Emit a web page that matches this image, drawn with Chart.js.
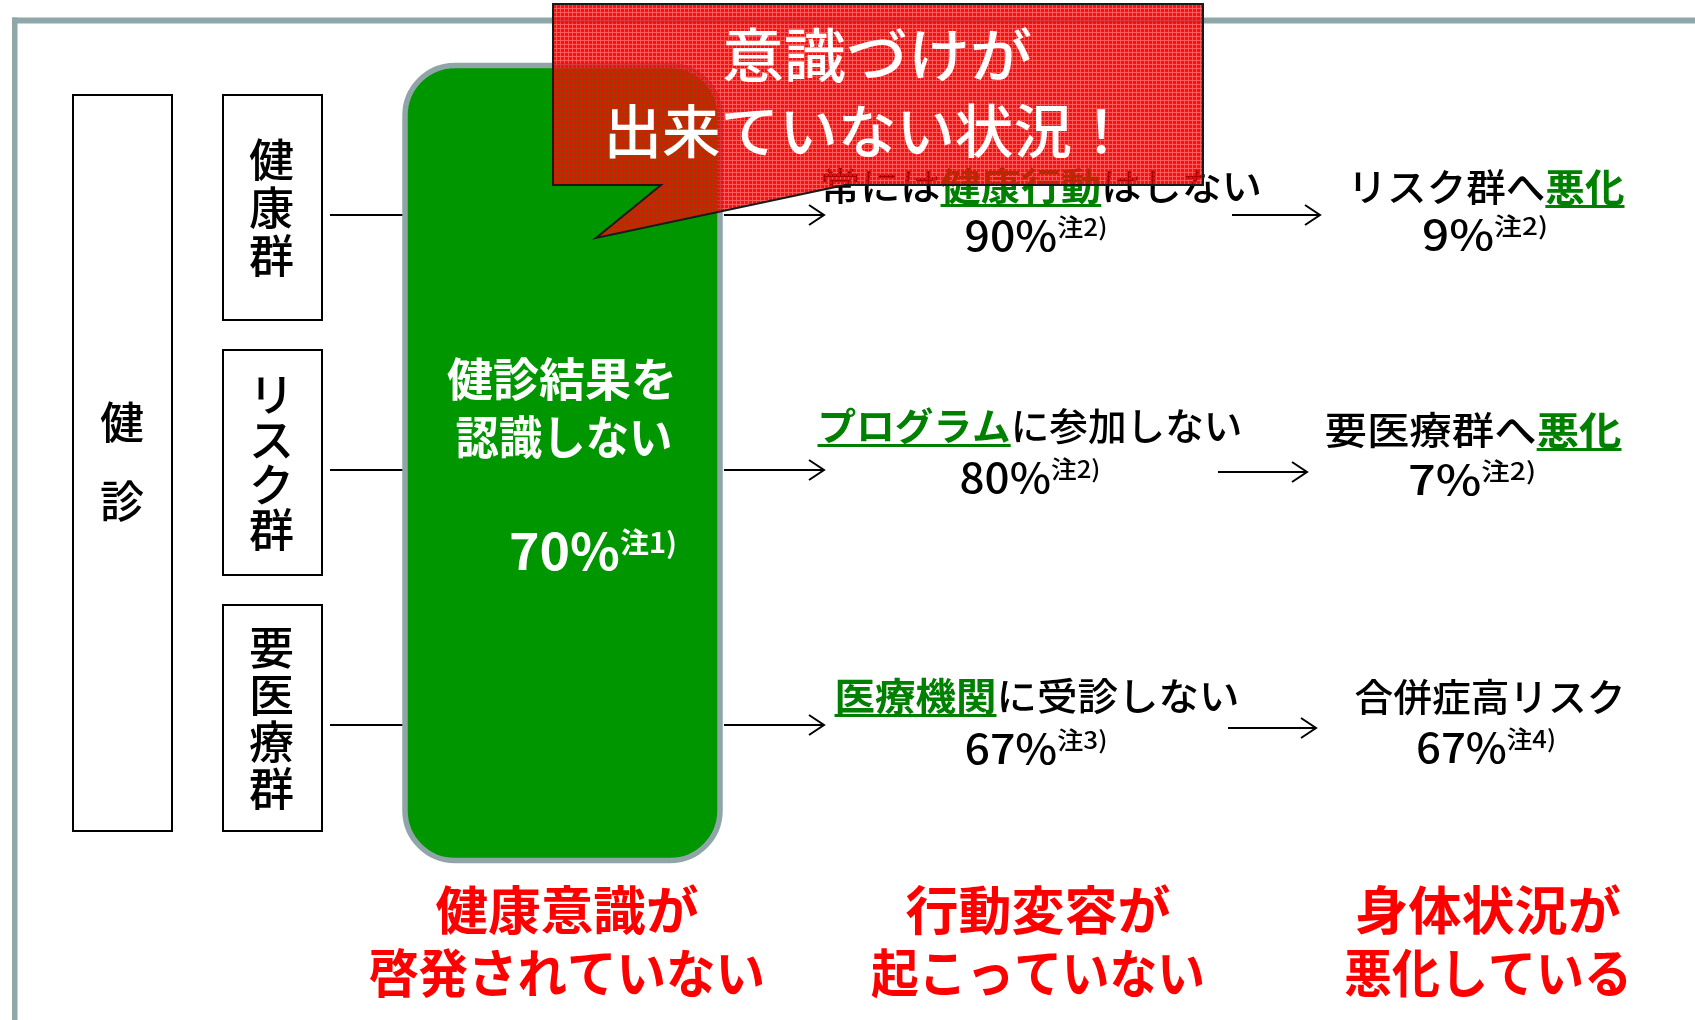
<!DOCTYPE html>
<html lang="ja">
<head>
<meta charset="utf-8">
<title>健診後の状況</title>
<script src="https://cdn.jsdelivr.net/npm/chart.js@4.4.1/dist/chart.umd.min.js"></script>
<style>
html,body{margin:0;padding:0;background:#fff;overflow:hidden;}
canvas{display:block;}
</style>
</head>
<body>
<canvas id="c" width="1695" height="1020"></canvas>
<script>
// ---------- data ----------
const screeningLabel = ['健', '診'];
const groups = ['健康群', 'リスク群', '要医療群'];
const unawareLines = ['健診結果を', '認識しない'];
const unawarePct = 70;
const unawareNote = '注1)';
const behaviorPre = ['常には', '', ''];
const behaviorKey = ['健康行動', 'プログラム', '医療機関'];
const behaviorPost = ['はしない', 'に参加しない', 'に受診しない'];
const behaviorPct = [90, 80, 67];
const behaviorNote = ['注2)', '注2)', '注3)'];
const outcomePre = ['リスク群へ', '要医療群へ', '合併症高リスク'];
const outcomeKey = ['悪化', '悪化', ''];
const outcomePct = [9, 7, 67];
const outcomeNote = ['注2)', '注2)', '注4)'];
const stageLines = [['健康意識が', '啓発されていない'], ['行動変容が', '起こっていない'], ['身体状況が', '悪化している']];
const calloutLines = ['意識づけが', '出来ていない状況！'];

// ---------- layout (positions in canvas units, mapped through the chart scales) ----------
const W = 1695, H = 1020;
const LAYOUT = {
  rowY: [215, 470, 725],
  screenBox: [73, 95, 172, 831],
  screenChars: { x: 122, y: [422, 501], size: 44 },
  groupBox: { x0: 223, x1: 322, y: [[95, 320], [350, 575], [605, 831]], step: [48, 45, 47] },
  leftLink: [330, 404],
  greenBox: { x: 405, y: 65.5, w: 315, h: 795, r: 50 },
  unaware: { cx: [562, 564], cy: [379, 437], w: [230, 217], pct: { cx: 593, cy: 551, w: 168 } },
  midArrow: [724, 824],
  behavior: { cx: [1041, 1030, 1037], cy: [186, 426, 696], w: [442, 425, 405] },
  behaviorPct: { cx: [1036, 1030, 1036], cy: [235, 477, 748], w: [143, 141, 143] },
  rightArrow: { x0: [1232, 1218, 1228], x1: [1320, 1307, 1316], y: [215, 472, 728] },
  outcome: { cx: [1486, 1473, 1490], cy: [187, 430, 697], w: [277, 297, 271] },
  outcomePct: { cx: [1485, 1472, 1486], cy: [234, 479, 747], w: [126, 128, 140] },
  stage: { cx: [567, 1038, 1488], cy: [910, 973], w: [[263, 396], [265, 334], [266, 288]] },
  callout: { x0: 553, y0: 4, x1: 1203, y1: 185, tail: [[845, 185], [596, 238], [661, 185]] },
  calloutText: { cx: [877, 867], cy: [55, 131], w: [310, 527] }
};

const FAM = '"Noto Sans CJK JP", "Noto Sans CJK SC", sans-serif';
const GREEN_TXT = '#008000';

function redPattern() {
  const p = document.createElement('canvas');
  p.width = 4; p.height = 4;
  const g = p.getContext('2d');
  for (let i = 0; i < 4; i++) for (let j = 0; j < 4; j++) {
    const a = (i === 0 || j === 0) ? 0.66 : 0.97;
    g.fillStyle = 'rgba(255,6,6,' + a + ')';
    g.fillRect(i, j, 1, 1);
  }
  return p;
}

const diagramPlugin = {
  id: 'diagram',
  afterDraw(chart) {
    const ctx = chart.ctx;
    const xs = chart.scales.x, ys = chart.scales.y;
    const X = v => xs.getPixelForValue(v);
    const Y = v => ys.getPixelForValue(v);
    const L = LAYOUT;

    function rich(segs, cx, cy, w) {
      let total = 0;
      segs.forEach(s => { ctx.font = s.font; s.w = ctx.measureText(s.t).width; total += s.w; });
      const tw = w ? (X(w) - X(0)) : total;
      const sx = tw / total;
      ctx.save();
      ctx.translate(X(cx) - tw / 2, Y(cy));
      ctx.scale(sx, 1);
      ctx.textAlign = 'left';
      ctx.textBaseline = 'middle';
      let x = 0;
      segs.forEach(s => {
        ctx.font = s.font;
        ctx.fillStyle = s.color;
        ctx.fillText(s.t, x, s.dy || 0);
        if (s.ul) ctx.fillRect(x, s.ul, s.w, 3);
        x += s.w;
      });
      ctx.restore();
    }
    function arrow(x0, x1, y) {
      ctx.strokeStyle = '#000'; ctx.lineWidth = 2;
      ctx.beginPath();
      ctx.moveTo(X(x0), Y(y)); ctx.lineTo(X(x1), Y(y));
      ctx.moveTo(X(x1) - 15, Y(y) - 10); ctx.lineTo(X(x1), Y(y)); ctx.lineTo(X(x1) - 15, Y(y) + 10);
      ctx.stroke();
    }

    ctx.save();
    // outer frame
    ctx.fillStyle = '#8fa7a9';
    ctx.fillRect(X(12), Y(17.5), X(W) - X(12), 6);
    ctx.fillRect(X(12), Y(17.5), 5.5, Y(H) - Y(17.5));

    // screening box
    ctx.strokeStyle = '#000'; ctx.lineWidth = 2;
    const sb = L.screenBox;
    ctx.strokeRect(X(sb[0]), Y(sb[1]), X(sb[2]) - X(sb[0]), Y(sb[3]) - Y(sb[1]));
    ctx.fillStyle = '#000';
    ctx.textAlign = 'center'; ctx.textBaseline = 'middle';
    ctx.font = '500 ' + L.screenChars.size + 'px ' + FAM;
    screeningLabel.forEach((c, i) => ctx.fillText(c, X(L.screenChars.x), Y(L.screenChars.y[i])));

    // group boxes
    groups.forEach((g, k) => {
      const gb = L.groupBox;
      const [y0, y1] = gb.y[k];
      ctx.strokeStyle = '#000'; ctx.lineWidth = 2;
      ctx.strokeRect(X(gb.x0), Y(y0), X(gb.x1) - X(gb.x0), Y(y1) - Y(y0));
      const chars = Array.from(g);
      const cyc = (y0 + y1) / 2;
      const step = gb.step[k];
      ctx.fillStyle = '#000';
      ctx.font = '500 45px ' + FAM;
      ctx.textAlign = 'center'; ctx.textBaseline = 'middle';
      chars.forEach((c, i) => {
        const yy = cyc + (i - (chars.length - 1) / 2) * step;
        ctx.fillText(c, X((gb.x0 + gb.x1) / 2 - 1), Y(yy));
      });
      // link line
      ctx.beginPath();
      ctx.moveTo(X(L.leftLink[0]), Y(L.rowY[k]));
      ctx.lineTo(X(L.leftLink[1]), Y(L.rowY[k]));
      ctx.stroke();
      arrow(L.midArrow[0], L.midArrow[1], L.rowY[k]);
    });

    // green box
    const gbx = L.greenBox;
    ctx.beginPath();
    ctx.roundRect(X(gbx.x), Y(gbx.y), X(gbx.x + gbx.w) - X(gbx.x), Y(gbx.y + gbx.h) - Y(gbx.y), gbx.r);
    ctx.fillStyle = '#009600';
    ctx.fill();
    ctx.lineWidth = 5.5; ctx.strokeStyle = '#8fa5a8';
    ctx.stroke();

    unawareLines.forEach((t, i) => {
      rich([{ t, font: '700 46px ' + FAM, color: '#fff' }], L.unaware.cx[i], L.unaware.cy[i], L.unaware.w[i]);
    });
    rich([
      { t: unawarePct + '%', font: '700 50px ' + FAM, color: '#fff' },
      { t: unawareNote, font: '700 28px ' + FAM, color: '#fff', dy: -9 }
    ], L.unaware.pct.cx, L.unaware.pct.cy, L.unaware.pct.w);

    // behavior column
    behaviorKey.forEach((key, i) => {
      const segs = [];
      if (behaviorPre[i]) segs.push({ t: behaviorPre[i], font: '500 38px ' + FAM, color: '#000' });
      segs.push({ t: key, font: '700 38px ' + FAM, color: GREEN_TXT, ul: 18 });
      segs.push({ t: behaviorPost[i], font: '500 38px ' + FAM, color: '#000' });
      rich(segs, L.behavior.cx[i], L.behavior.cy[i], L.behavior.w[i]);
      rich([
        { t: behaviorPct[i] + '%', font: '500 41px ' + FAM, color: '#000' },
        { t: behaviorNote[i], font: '500 24px ' + FAM, color: '#000', dy: -8 }
      ], L.behaviorPct.cx[i], L.behaviorPct.cy[i], L.behaviorPct.w[i]);
      arrow(L.rightArrow.x0[i], L.rightArrow.x1[i], L.rightArrow.y[i]);
    });

    // outcome column
    outcomePre.forEach((pre, i) => {
      const segs = [{ t: pre, font: '500 38px ' + FAM, color: '#000' }];
      if (outcomeKey[i]) segs.push({ t: outcomeKey[i], font: '700 38px ' + FAM, color: GREEN_TXT, ul: 18 });
      rich(segs, L.outcome.cx[i], L.outcome.cy[i], L.outcome.w[i]);
      rich([
        { t: outcomePct[i] + '%', font: '500 41px ' + FAM, color: '#000' },
        { t: outcomeNote[i], font: '500 24px ' + FAM, color: '#000', dy: -8 }
      ], L.outcomePct.cx[i], L.outcomePct.cy[i], L.outcomePct.w[i]);
    });

    // stage captions
    stageLines.forEach((lines, k) => {
      lines.forEach((t, j) => {
        rich([{ t, font: '700 52px ' + FAM, color: '#ff0000' }], L.stage.cx[k], L.stage.cy[j], L.stage.w[k][j]);
      });
    });

    // callout
    const co = L.callout;
    ctx.beginPath();
    ctx.moveTo(X(co.x0), Y(co.y0));
    ctx.lineTo(X(co.x1), Y(co.y0));
    ctx.lineTo(X(co.x1), Y(co.y1));
    co.tail.forEach(p => ctx.lineTo(X(p[0]), Y(p[1])));
    ctx.lineTo(X(co.x0), Y(co.y1));
    ctx.closePath();
    ctx.fillStyle = ctx.createPattern(redPattern(), 'repeat');
    ctx.fill();
    ctx.lineWidth = 2; ctx.strokeStyle = '#1a1a1a';
    ctx.stroke();
    calloutLines.forEach((t, i) => {
      rich([{ t, font: '500 58px ' + FAM, color: '#fff' }], L.calloutText.cx[i], L.calloutText.cy[i], L.calloutText.w[i]);
    });
    ctx.restore();
  }
};

new Chart(document.getElementById('c'), {
  type: 'scatter',
  data: { datasets: [{ data: [], pointRadius: 0 }] },
  options: {
    responsive: false,
    animation: false,
    events: [],
    layout: { padding: 0 },
    plugins: { legend: { display: false }, tooltip: { enabled: false } },
    scales: {
      x: { type: 'linear', min: 0, max: W, display: false },
      y: { type: 'linear', min: 0, max: H, reverse: true, display: false }
    }
  },
  plugins: [diagramPlugin]
});
</script>
</body>
</html>
